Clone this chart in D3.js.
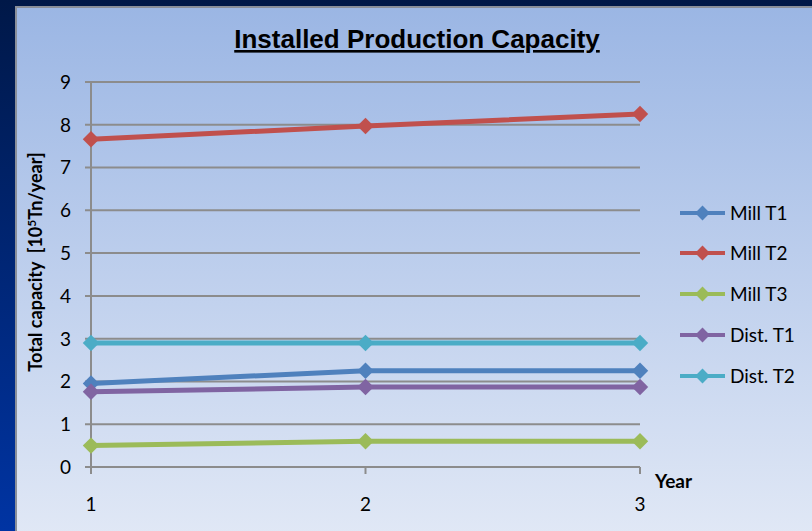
<!DOCTYPE html>
<html><head><meta charset="utf-8">
<script src="https://cdn.jsdelivr.net/npm/d3@7"></script>
<style>html,body{margin:0;padding:0;overflow:hidden;background:#00256e}</style>
</head><body>
<svg id="c" width="812" height="531"></svg>
<script>
const years = [1, 2, 3];
const yTicks = [0,1,2,3,4,5,6,7,8,9];
const millT1 = [1.95, 2.25, 2.25];
const millT2 = [7.66, 7.97, 8.25];
const millT3 = [0.50, 0.60, 0.60];
const distT1 = [1.76, 1.87, 1.87];
const distT2 = [2.90, 2.90, 2.90];
const seriesNames = ["Mill T1", "Mill T2", "Mill T3", "Dist. T1", "Dist. T2"];
const seriesColors = ["#4F81BD", "#C0504D", "#9BBB59", "#8064A2", "#4BACC6"];
const series = [millT1, millT2, millT3, distT1, distT2].map((v, i) => ({name: seriesNames[i], color: seriesColors[i], values: v}));

const svg = d3.select("#c");
const defs = svg.append("defs");
const og = defs.append("linearGradient").attr("id","outer").attr("x1",0).attr("y1",0).attr("x2",0).attr("y2",1);
og.append("stop").attr("offset","0").attr("stop-color","#001848");
og.append("stop").attr("offset","1").attr("stop-color","#0034a3");
const ig = defs.append("linearGradient").attr("id","inner").attr("x1",0).attr("y1",0).attr("x2",0).attr("y2",1);
ig.append("stop").attr("offset","0").attr("stop-color","#9bb6e4");
ig.append("stop").attr("offset","1").attr("stop-color","#e2e9f6");

svg.append("rect").attr("width",812).attr("height",531).attr("fill","url(#outer)");
svg.append("rect").attr("x",16).attr("y",7).attr("width",810).attr("height",540)
  .attr("fill","url(#inner)").attr("stroke","#8a8f99").attr("stroke-width",2);

const x = d3.scalePoint().domain(years).range([91, 640]);
const y = d3.scaleLinear().domain([0, 9]).range([467, 82]);

// grid
svg.append("g").selectAll("line").data(yTicks).join("line")
  .attr("x1", 85).attr("x2", 640).attr("y1", d => y(d)).attr("y2", d => y(d))
  .attr("stroke", "#8c8c8c").attr("stroke-width", 2);
// y axis line
svg.append("line").attr("x1",91).attr("x2",91).attr("y1",y(9)).attr("y2",y(0)+7)
  .attr("stroke","#8c8c8c").attr("stroke-width",2);
// x ticks
svg.append("g").selectAll("line").data(years).join("line")
  .attr("x1", d => x(d)).attr("x2", d => x(d)).attr("y1", y(0)).attr("y2", y(0)+7)
  .attr("stroke","#8c8c8c").attr("stroke-width",2);

const tickFont = "Lato, 'Noto Sans', sans-serif";
svg.append("g").selectAll("text").data(yTicks).join("text")
  .attr("x", 71).attr("y", d => y(d)).attr("dy","0.36em").attr("text-anchor","end")
  .attr("font-family", tickFont).attr("font-size", 19).attr("fill","#000").text(d => d);
svg.append("g").selectAll("text").data(years).join("text")
  .attr("x", d => x(d)).attr("y", 504).attr("dy","0.36em").attr("text-anchor","middle")
  .attr("font-family", tickFont).attr("font-size", 19).attr("fill","#000").text(d => d);

// title
svg.append("text").attr("x", 417).attr("y", 48).attr("text-anchor","middle")
  .attr("font-family","'Liberation Sans', Arial, sans-serif").attr("font-weight","bold")
  .attr("font-size", 26).attr("text-decoration","underline").attr("fill","#000")
  .text("Installed Production Capacity");

// y label
const yl = svg.append("text").attr("transform","translate(42,262) rotate(-90)")
  .attr("text-anchor","middle").attr("font-family", tickFont).attr("font-weight","bold")
  .attr("font-size", 18).attr("fill","#000").attr("xml:space","preserve");
yl.append("tspan").text("Total capacity\u00a0\u00a0[10");
yl.append("tspan").attr("dy",-6).attr("font-size",12).text("5");
yl.append("tspan").attr("dy",6).text("Tn/year]");

svg.append("text").attr("x", 655).attr("y", 488).attr("font-family", tickFont)
  .attr("font-weight","bold").attr("font-size",19).attr("fill","#000").text("Year");

const line = d3.line().x((d,i) => x(years[i])).y(d => y(d));

series.forEach(s => {
  const g = svg.append("g");
  g.append("path").attr("d", line(s.values)).attr("fill","none")
    .attr("stroke", s.color).attr("stroke-width", 5);
  g.selectAll("path.m").data(s.values).join("path").attr("class","m")
    .attr("d", d3.symbol().type(d3.symbolSquare).size(135))
    .attr("transform", (d,i) => `translate(${x(years[i])},${y(d)}) rotate(45)`)
    .attr("fill", s.color);
});

// legend
const lg = svg.append("g");
const rowY = [213, 253, 294, 335, 376];
series.forEach((s, i) => {
  const r = lg.append("g").attr("transform", `translate(0,${rowY[i]})`);
  r.append("line").attr("x1",680).attr("x2",725).attr("stroke",s.color).attr("stroke-width",4);
  r.append("path").attr("d", d3.symbol().type(d3.symbolSquare).size(110))
    .attr("transform","translate(702.5,0) rotate(45)").attr("fill",s.color);
  r.append("text").attr("x",730).attr("dy","0.36em").attr("font-family",tickFont)
    .attr("font-size",19).attr("fill","#000").text(s.name);
});
</script>
</body></html>
